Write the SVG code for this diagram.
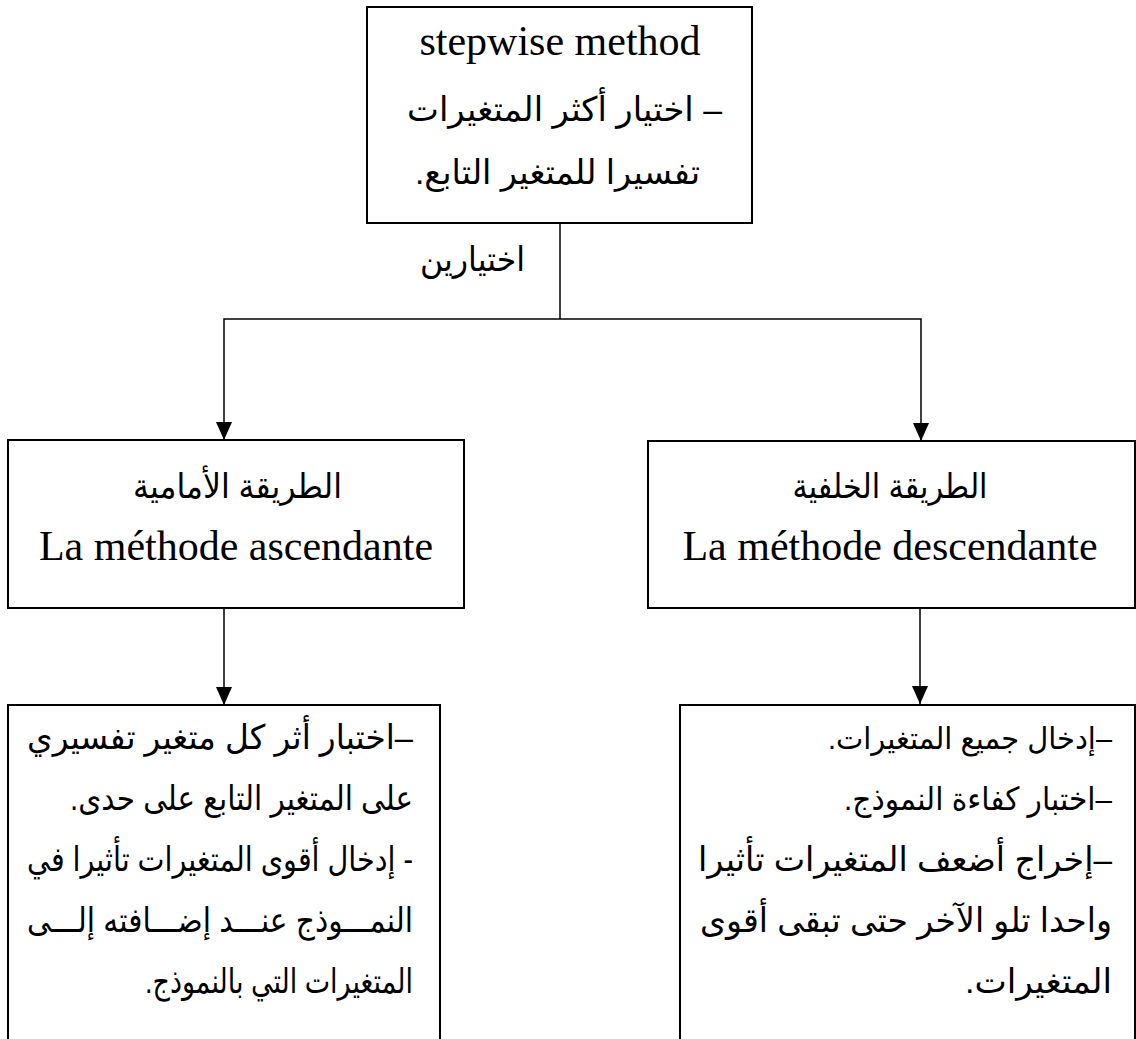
<svg xmlns="http://www.w3.org/2000/svg" width="1136" height="1039" viewBox="0 0 1136 1039">
  <style>
    .box { fill: #ffffff; stroke: #000000; stroke-width: 2; }
    .wire { fill: none; stroke: #000000; stroke-width: 1.5; }
    .lat { font-family: "Liberation Serif", "Times New Roman", serif; font-size: 42px; fill: #000; }
    .ar { font-family: "Liberation Sans", "DejaVu Sans", sans-serif; font-size: 34px; fill: #000; }
    .ar-s { font-size: 32px; }
    .ar-xs { font-size: 30px; }
  </style>
  <rect width="1136" height="1039" fill="#ffffff"/>

  <!-- connectors -->
  <g id="connectors">
    <line class="wire" x1="560" y1="223" x2="560" y2="319"/>
    <polyline class="wire" points="560,319 224,319 224,439"/>
    <polyline class="wire" points="560,319 921,319 921,440"/>
    <line class="wire" x1="224" y1="608" x2="224" y2="704"/>
    <line class="wire" x1="920" y1="608" x2="920" y2="704"/>
    <path d="M216,422 L232,422 L224,440 Z" fill="#000"/>
    <path d="M913,423 L929,423 L921,441 Z" fill="#000"/>
    <path d="M216,687 L232,687 L224,705 Z" fill="#000"/>
    <path d="M912,686 L928,686 L920,704 Z" fill="#000"/>
    <text class="ar" x="472.5" y="271" text-anchor="middle" direction="rtl" textLength="105" lengthAdjust="spacingAndGlyphs">اختيارين</text>
  </g>

  <!-- top node -->
  <g id="stepwise">
    <rect class="box" x="367" y="7" width="385" height="216"/>
    <text class="lat" x="560" y="55" text-anchor="middle">stepwise method</text>
    <text class="ar" x="564.5" y="121" text-anchor="middle" direction="rtl" textLength="315" lengthAdjust="spacingAndGlyphs">– اختيار أكثر المتغيرات</text>
    <text class="ar" x="557.5" y="184" text-anchor="middle" direction="rtl" textLength="285" lengthAdjust="spacingAndGlyphs">تفسيرا للمتغير التابع.</text>
  </g>

  <!-- forward method -->
  <g id="forward">
    <rect class="box" x="8" y="440" width="456" height="168"/>
    <text class="ar" x="237.5" y="498" text-anchor="middle" direction="rtl" textLength="209" lengthAdjust="spacingAndGlyphs">الطريقة الأمامية</text>
    <text class="lat" x="236" y="560" text-anchor="middle">La méthode ascendante</text>
  </g>

  <!-- backward method -->
  <g id="backward">
    <rect class="box" x="648" y="441" width="487" height="167"/>
    <text class="ar" x="890" y="498" text-anchor="middle" direction="rtl" textLength="195" lengthAdjust="spacingAndGlyphs">الطريقة الخلفية</text>
    <text class="lat" x="890" y="560" text-anchor="middle">La méthode descendante</text>
  </g>

  <!-- forward method steps (justified lines use kashida) -->
  <g id="forward-steps">
    <rect class="box" x="8" y="705" width="432" height="345"/>
    <text class="ar" x="220" y="749" text-anchor="middle" direction="rtl" textLength="386" lengthAdjust="spacingAndGlyphs">–اختبار أثر كل متغير تفسيري</text>
    <text class="ar" x="241.5" y="810" text-anchor="middle" direction="rtl" textLength="343" lengthAdjust="spacingAndGlyphs">على المتغير التابع على حدى.</text>
    <text class="ar" x="220" y="871" text-anchor="middle" direction="rtl" textLength="386" lengthAdjust="spacingAndGlyphs">- إدخال أقوى المتغيرات تأثيرا في</text>
    <text class="ar" x="220" y="932" text-anchor="middle" direction="rtl" textLength="386" lengthAdjust="spacingAndGlyphs">النمـــوذج عنـــد إضـــافته إلـــى</text>
    <text class="ar" x="279" y="993" text-anchor="middle" direction="rtl" textLength="268" lengthAdjust="spacingAndGlyphs">المتغيرات التي بالنموذج.</text>
  </g>

  <!-- backward method steps -->
  <g id="backward-steps">
    <rect class="box" x="680" y="705" width="455" height="345"/>
    <text class="ar ar-xs" x="970" y="749" text-anchor="middle" direction="rtl" textLength="284" lengthAdjust="spacingAndGlyphs">–إدخال جميع المتغيرات.</text>
    <text class="ar ar-s" x="978" y="810" text-anchor="middle" direction="rtl" textLength="268" lengthAdjust="spacingAndGlyphs">–اختبار كفاءة النموذج.</text>
    <text class="ar" x="905" y="871" text-anchor="middle" direction="rtl" textLength="414" lengthAdjust="spacingAndGlyphs">–إخراج أضعف المتغيرات تأثيرا</text>
    <text class="ar" x="906" y="932" text-anchor="middle" direction="rtl" textLength="412" lengthAdjust="spacingAndGlyphs">واحدا تلو الآخر حتى تبقى أقوى</text>
    <text class="ar" x="1038.5" y="993" text-anchor="middle" direction="rtl" textLength="147" lengthAdjust="spacingAndGlyphs">المتغيرات.</text>
  </g>
</svg>
